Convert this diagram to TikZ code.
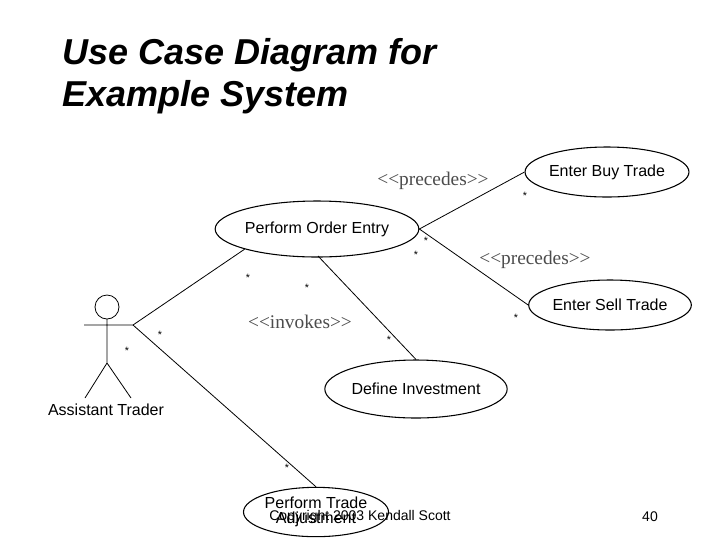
\documentclass[tikz,border=0pt]{standalone}
\usetikzlibrary{shapes.geometric}
\usepackage{fontspec}
\setmainfont{Liberation Sans}
\newfontfamily\serifx{Liberation Serif}
\begin{document}
\begin{tikzpicture}[x=0.75pt,y=-0.75pt,
  uc/.style={draw,ellipse,line width=0.8pt,inner sep=0pt,font=\fontsize{12}{13}\selectfont},
  ln/.style={line width=0.6pt},
  st/.style={font=\fontsize{8}{8}\selectfont},
  lab/.style={font=\serifx\fontsize{14.5}{15}\selectfont,text=black!70}]
\useasboundingbox (0,0) rectangle (720,540);
\fill[white] (0,0) rectangle (720,540);
\node[anchor=west,font=\bfseries\itshape\fontsize{27}{29}\selectfont] (t1) at (58,55) {Use Case Diagram for};
\node[anchor=west,font=\bfseries\itshape\fontsize{27}{29}\selectfont] (t2) at (58,97) {Example System};
\begin{scope}
\clip (0,0) rectangle (720,540);
\node[uc,minimum width=124.5pt,minimum height=42pt] (poe) at (317,229) {Perform Order Entry};
\node[uc,minimum width=94.5pt,minimum height=37.5pt] (ebt) at (607,172) {Enter Buy Trade};
\node[uc,minimum width=94.5pt,minimum height=37.5pt] (est) at (610,305) {Enter Sell Trade};
\node[uc,minimum width=105pt,minimum height=43.5pt] (di) at (416,389) {Define Investment};
\node[uc,minimum width=87pt,minimum height=37pt,align=center,font=\fontsize{12}{11}\selectfont] (pta) at (316,512) {Perform Trade\\Adjustment};
\end{scope}
% actor
\draw[ln] (107,307) circle (9pt);
\coordinate (neck) at (107,319);
\coordinate (hip) at (107,363);
\coordinate (ah) at (133,325);
\draw[ln] (neck) -- (hip) (84,325) -- (ah) (hip) -- (85,398) (hip) -- (131,398);
\node[font=\fontsize{12}{13}\selectfont] (at) at (106,410) {Assistant Trader};
% connectors
\draw[ln] (ah) -- (poe.south west);
\draw[ln] (ah) -- (pta.north);
\draw[ln] (poe.east) -- (ebt.west);
\draw[ln] (poe.east) -- (est.west);
\draw[ln] (318,256) -- (di.north);
% stars
\foreach \p/\n in {{(248,278)}/s1,{(307,288)}/s2,{(160,335)}/s3,{(127,351)}/s4,{(525,196)}/s5,{(426,241)}/s6,{(416,255)}/s7,{(516,318)}/s8,{(389,340)}/s9,{(287,468)}/s10}
  \node[st] (\n) at \p {*};
\node[lab] (l1) at (433,181) {<<precedes>>};
\node[lab] (l2) at (535,260) {<<precedes>>};
\node[lab] (l3) at (300,322) {<<invokes>>};
\node[font=\fontsize{10.5}{12}\selectfont] (cp) at (360,517) {Copyright 2003 Kendall Scott};
\node[font=\fontsize{10.5}{12}\selectfont] (pg) at (650,517) {40};
\end{tikzpicture}
\end{document}
